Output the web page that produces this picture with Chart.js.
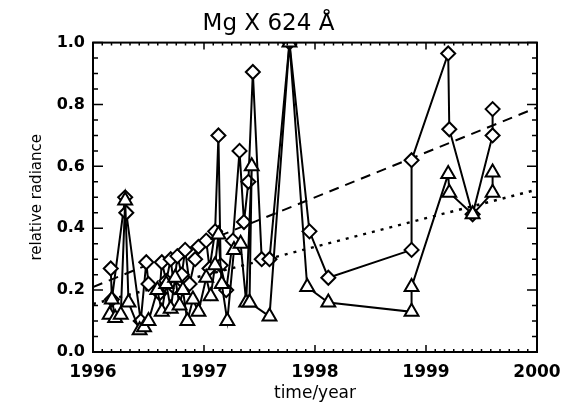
<!DOCTYPE html>
<html>
<head>
<meta charset="utf-8">
<script src="https://cdn.jsdelivr.net/npm/chart.js@4.4.1/dist/chart.umd.min.js"></script>
<style>
  html, body { margin: 0; padding: 0; background: #fff; }
</style>
</head>
<body>
<canvas id="myChart" width="574" height="412"></canvas>
<script>
// Mg X 624 A - relative radiance against time

// diamonds: upper series
let diamondYears = [1996.16, 1996.17, 1996.29, 1996.30, 1996.43, 1996.48, 1996.50, 1996.60, 1996.62, 1996.66,
                    1996.70, 1996.73, 1996.76, 1996.80, 1996.83, 1996.87, 1996.92, 1996.95, 1997.02, 1997.05,
                    1997.10, 1997.13, 1997.15, 1997.20, 1997.26, 1997.32, 1997.36, 1997.40, 1997.44, 1997.52,
                    1997.59, 1997.77, 1997.95, 1998.12, 1998.87, 1998.87, 1999.20, 1999.21, 1999.42, 1999.60,
                    1999.60];
let diamondValues = [0.27, 0.17, 0.50, 0.45, 0.10, 0.29, 0.22, 0.19, 0.29, 0.23,
                     0.30, 0.21, 0.31, 0.25, 0.33, 0.22, 0.30, 0.34, 0.36, 0.27,
                     0.39, 0.70, 0.28, 0.20, 0.36, 0.65, 0.42, 0.55, 0.905, 0.30,
                     0.30, 1.00, 0.39, 0.24, 0.33, 0.62, 0.965, 0.72, 0.445, 0.70,
                     0.785];

// triangles: lower series
let triangleYears = [1996.15, 1996.17, 1996.20, 1996.25, 1996.29, 1996.32, 1996.42, 1996.46, 1996.50, 1996.58,
                     1996.62, 1996.66, 1996.70, 1996.74, 1996.78, 1996.81, 1996.85, 1996.90, 1996.95, 1997.02,
                     1997.06, 1997.10, 1997.13, 1997.16, 1997.21, 1997.27, 1997.33, 1997.38, 1997.43, 1997.41,
                     1997.59, 1997.77, 1997.93, 1998.12, 1998.87, 1998.87, 1999.20, 1999.21, 1999.42, 1999.60,
                     1999.60];
let triangleValues = [0.12, 0.17, 0.11, 0.12, 0.49, 0.16, 0.07, 0.08, 0.10, 0.20,
                      0.13, 0.22, 0.14, 0.24, 0.15, 0.20, 0.10, 0.17, 0.13, 0.24,
                      0.18, 0.28, 0.38, 0.22, 0.10, 0.33, 0.35, 0.16, 0.60, 0.16,
                      0.115, 1.00, 0.21, 0.16, 0.13, 0.21, 0.575, 0.515, 0.445, 0.515,
                      0.58];

// linear trends
let trendYears = [1996, 2000];
let dashedValues = [0.21, 0.79];
let dottedValues = [0.155, 0.525];

// axis ticks
let xTicks = [1996, 1997, 1998, 1999, 2000];
let yTicks = [0.0, 0.2, 0.4, 0.6, 0.8, 1.0];

function toPoints(xs, ys) {
    return xs.map((x, i) => ({ x: x, y: ys[i] }));
}

// frame and inward tick marks on all four sides
const frameTicks = {
    id: 'frameTicks',
    afterDraw(chart) {
        const ctx = chart.ctx;
        const a = chart.chartArea;
        const xs = chart.scales.x;
        const ys = chart.scales.y;
        ctx.save();
        ctx.strokeStyle = '#000';
        ctx.lineWidth = 2;
        ctx.strokeRect(a.left, a.top, a.right - a.left, a.bottom - a.top);
        ctx.lineWidth = 1.5;
        ctx.beginPath();
        for (let i = 0; i <= 48; i++) {
            let px = xs.getPixelForValue(xTicks[0] + i / 12);
            let len = i % 12 === 0 ? 7 : 3;
            ctx.moveTo(px, a.bottom); ctx.lineTo(px, a.bottom - len);
            ctx.moveTo(px, a.top); ctx.lineTo(px, a.top + len);
        }
        for (let i = 0; i <= 20; i++) {
            let py = ys.getPixelForValue(i * 0.05);
            let len = i % 4 === 0 ? 10 : 5;
            ctx.moveTo(a.left, py); ctx.lineTo(a.left + len, py);
            ctx.moveTo(a.right, py); ctx.lineTo(a.right - len, py);
        }
        ctx.stroke();
        ctx.restore();
    }
};

let ctx = document.getElementById('myChart').getContext('2d');
let myChart = new Chart(ctx, {
    type: 'scatter',
    data: {
        datasets: [
            {
                data: toPoints(triangleYears, triangleValues),
                showLine: true,
                borderColor: '#000',
                borderWidth: 2,
                pointStyle: 'triangle',
                pointRadius: 8,
                pointBorderWidth: 2,
                pointBackgroundColor: '#fff',
                pointBorderColor: '#000',
                order: 1
            },
            {
                data: toPoints(diamondYears, diamondValues),
                showLine: true,
                borderColor: '#000',
                borderWidth: 2,
                pointStyle: 'rectRot',
                pointRadius: 7,
                pointBorderWidth: 2,
                pointBackgroundColor: '#fff',
                pointBorderColor: '#000',
                order: 2
            },
            {
                data: toPoints(trendYears, dashedValues),
                showLine: true,
                borderColor: '#000',
                borderWidth: 2,
                borderDash: [10, 7],
                pointRadius: 0,
                order: 3
            },
            {
                data: toPoints(trendYears, dottedValues),
                showLine: true,
                borderColor: '#000',
                borderWidth: 2.5,
                borderDash: [3, 6],
                pointRadius: 0,
                order: 3
            }
        ]
    },
    options: {
        responsive: false,
        animation: false,
        layout: { padding: { left: 0, right: 37, top: 0, bottom: 0 } },
        plugins: {
            legend: { display: false },
            tooltip: { enabled: false },
            title: {
                display: true,
                text: 'Mg X 624 Å',
                color: '#000',
                font: { family: 'DejaVu Sans', size: 23, weight: 'normal' },
                padding: { top: 10, bottom: 5 }
            }
        },
        scales: {
            x: {
                type: 'linear',
                min: 1996,
                max: 2000,
                afterFit: s => { s.height = 60; },
                afterBuildTicks: s => { s.ticks = xTicks.map(v => ({ value: v })); },
                grid: { display: false, drawTicks: false },
                border: { display: false },
                ticks: {
                    color: '#000',
                    padding: 10,
                    maxRotation: 0,
                    font: { family: 'DejaVu Sans', size: 17, weight: 'bold' },
                    callback: v => String(v)
                },
                title: {
                    display: true,
                    text: 'time/year',
                    color: '#000',
                    font: { family: 'DejaVu Sans', size: 17 },
                    padding: { top: 0, bottom: 8 }
                }
            },
            y: {
                min: 0,
                max: 1,
                afterFit: s => { s.width = 93; },
                afterBuildTicks: s => { s.ticks = yTicks.map(v => ({ value: v })); },
                grid: { display: false, drawTicks: false },
                border: { display: false },
                ticks: {
                    color: '#000',
                    padding: 8,
                    font: { family: 'DejaVu Sans', size: 16, weight: 'bold' },
                    callback: v => v.toFixed(1)
                },
                title: {
                    display: true,
                    text: 'relative radiance',
                    color: '#000',
                    font: { family: 'DejaVu Sans', size: 15 },
                    padding: { top: 28, bottom: 0 }
                }
            }
        }
    },
    plugins: [frameTicks]
});
</script>
</body>
</html>
